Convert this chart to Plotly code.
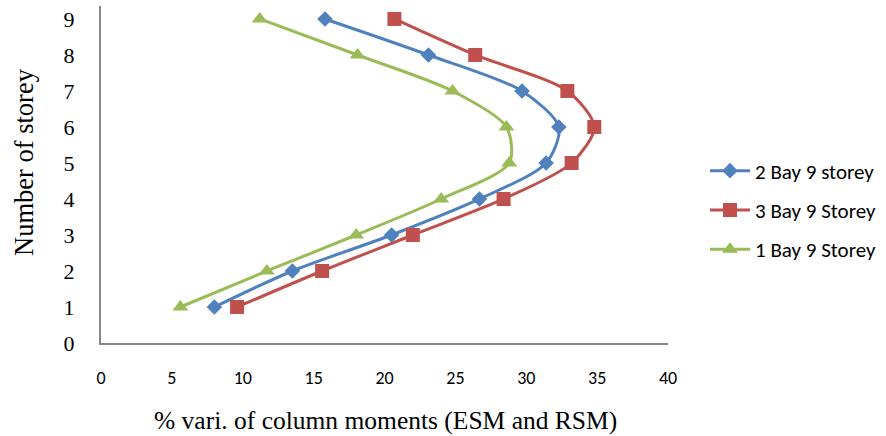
import plotly.graph_objects as go

# Storey levels and % variation of column moments (ESM vs RSM)
storeys = [1, 2, 3, 4, 5, 6, 7, 8, 9]
bay2_9storey = [8.0, 13.5, 20.5, 26.7, 31.4, 32.3, 29.7, 23.1, 15.8]
bay3_9storey = [9.6, 15.6, 22.0, 28.4, 33.2, 34.8, 32.9, 26.4, 20.7]
bay1_9storey = [5.6, 11.7, 18.0, 24.0, 28.8, 28.6, 24.8, 18.1, 11.2]

x_ticks = [0, 5, 10, 15, 20, 25, 30, 35, 40]
y_ticks = [0, 1, 2, 3, 4, 5, 6, 7, 8, 9]

series = [
    ("2 Bay 9 storey", bay2_9storey, "#4F81BD", "diamond", 12),
    ("3 Bay 9 Storey", bay3_9storey, "#C0504D", "square", 14),
    ("1 Bay 9 Storey", bay1_9storey, "#9BBB59", "triangle-up", 14),
]

SERIF = "Times New Roman, Liberation Serif, serif"
SANS = "Calibri, Carlito, Lato, sans-serif"

W, H = 886, 436
ML, MR, MT, MB = 101, 218, 6, 93

fig = go.Figure()
for i, (name, vals, color, symbol, size) in enumerate(series):
    fig.add_trace(go.Scatter(
        x=vals, y=storeys, name=name, mode="lines+markers",
        line=dict(color=color, width=3, shape="spline", smoothing=0.8),
        marker=dict(symbol=symbol, size=size, color=color),
        legendgroup=f"g{i}",
    ))

fig.update_layout(
    width=W, height=H,
    margin=dict(l=ML, r=MR, t=MT, b=MB, autoexpand=False),
    paper_bgcolor="white", plot_bgcolor="white",
    showlegend=True,
    legend=dict(
        x=705 / W, xanchor="left", xref="container",
        y=1 - 210 / H, yanchor="middle", yref="container",
        font=dict(family=SANS, size=21, color="#000000"),
        tracegroupgap=9, itemwidth=40,
        bgcolor="rgba(0,0,0,0)",
    ),
    xaxis=dict(
        range=[0, 40], tickvals=x_ticks, ticks="", showgrid=False,
        zeroline=False, showline=True, linecolor="#868686", linewidth=2,
        tickfont=dict(family=SANS, size=18, color="#000000"),
        ticklabelstandoff=17,
    ),
    yaxis=dict(
        range=[0, 9.36], tickvals=y_ticks, ticks="", showgrid=False,
        zeroline=False, showline=True, linecolor="#868686", linewidth=2,
        tickfont=dict(family=SERIF, size=22, color="#000000"),
        ticklabelstandoff=20,
    ),
    annotations=[
        dict(text="% vari. of column moments (ESM and RSM)",
             x=385, y=420, xref="paper", yref="paper",
             showarrow=False, font=dict(family=SERIF, size=25.5, color="#000000")),
        dict(text="Number of storey", textangle=-90,
             x=24, y=162, xref="paper", yref="paper",
             showarrow=False, font=dict(family=SERIF, size=26.5, color="#000000")),
    ],
)

# convert pixel positions of the axis titles into paper coordinates
plot_w = W - ML - MR
plot_h = H - MT - MB
for ann in fig.layout.annotations:
    px, py = ann.x, ann.y
    ann.x = (px - ML) / plot_w
    ann.y = (H - MB - py) / plot_h
    ann.xanchor = "center"
    ann.yanchor = "middle"

fig.write_html("out.html")
